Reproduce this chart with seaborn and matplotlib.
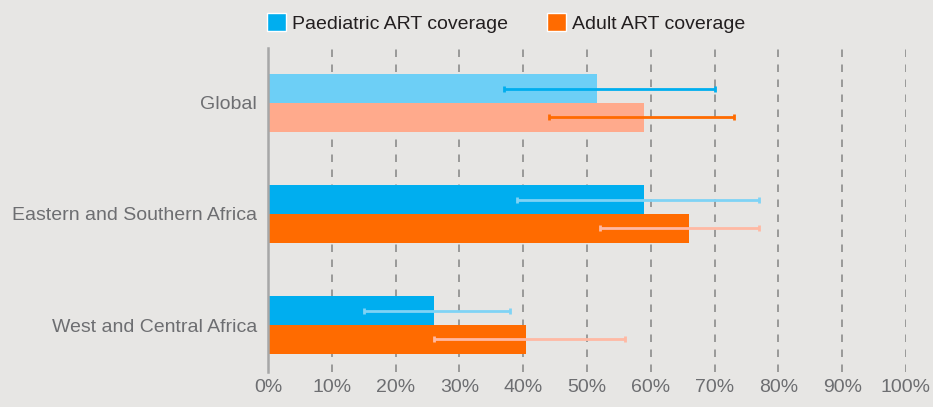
import pandas as pd
import numpy as np
from matplotlib import pyplot as plt
from matplotlib.patches import Patch
import seaborn as sb

# data (percent)
regions = ["Global", "Eastern and Southern Africa", "West and Central Africa"]
series = ["Paediatric ART coverage", "Adult ART coverage"]
paed_val = [51.5, 59, 26]
paed_lo = [37, 39, 15]
paed_hi = [70, 77, 38]
adult_val = [59, 66, 40.5]
adult_lo = [44, 52, 26]
adult_hi = [73, 77, 56]
xticks = list(range(0, 101, 10))

df = pd.DataFrame({
    "region": regions * 2,
    "series": [series[0]] * 3 + [series[1]] * 3,
    "value": paed_val + adult_val,
    "lo": paed_lo + adult_lo,
    "hi": paed_hi + adult_hi,
})

bg = "#e7e6e4"
blue, orange = "#00aeef", "#ff6b00"
light_blue, light_orange = "#6dcff6", "#ffaa8c"
err_light_blue, err_light_orange = "#7fd3f5", "#ffb9a3"
grey_txt = "#6d6e71"

sb.set_style("white")
plt.rcParams["font.family"] = ["Liberation Sans", "DejaVu Sans"]

fig = plt.figure(figsize=(9.33, 4.07), dpi=100, facecolor=bg)
ax = fig.add_axes([268 / 933, 1 - 372 / 407, (906 - 268) / 933, (372 - 48) / 407])
ax.set_facecolor(bg)

sb.barplot(data=df, y="region", x="value", hue="series", orient="h", errorbar=None,
           palette=[blue, orange], width=0.52, saturation=1, ax=ax, legend=False)

# Global bars lighter, error bar colours swapped
bar_cols = [[light_blue, blue, blue], [light_orange, orange, orange]]
err_cols = [[blue, err_light_blue, err_light_blue], [orange, err_light_orange, err_light_orange]]
los = [paed_lo, adult_lo]
his = [paed_hi, adult_hi]
vals = [paed_val, adult_val]
bar_conts = list(ax.containers)[:2]
for s, cont in enumerate(bar_conts):
    for i, bar in enumerate(cont):
        bar.set_facecolor(bar_cols[s][i])
        bar.set_edgecolor("none")
        bar.set_zorder(2)
        yc = bar.get_y() + bar.get_height() / 2
        ax.errorbar(vals[s][i], yc,
                    xerr=[[vals[s][i] - los[s][i]], [his[s][i] - vals[s][i]]],
                    fmt="none", ecolor=err_cols[s][i], elinewidth=2, capsize=2.5,
                    capthick=2, zorder=4)

ax.set_xlim(0, 100)
ax.set_ylim(2.423, -0.495)
ax.set_xticks(xticks)
ax.set_xticklabels([f"{t}%" for t in xticks])
ax.tick_params(axis="both", length=0, labelsize=14, labelcolor=grey_txt)
ax.tick_params(axis="x", pad=5)
ax.tick_params(axis="y", pad=8)
ax.set_xlabel("")
ax.set_ylabel("")
for t in xticks[1:]:
    ax.axvline(t, color="#8c8c8c", ls=(0, (4.5, 4.5)), lw=1.2, zorder=1)
for side in ["top", "right", "bottom"]:
    ax.spines[side].set_visible(False)
ax.spines["left"].set_color("#a7a7a7")
ax.spines["left"].set_linewidth(1.8)
ax.spines["left"].set_zorder(5)

handles = [Patch(facecolor=blue), Patch(facecolor=orange)]
fig.legend(handles, series, loc="center", bbox_to_anchor=(506 / 933, 1 - 23 / 407),
           ncol=2, frameon=False, fontsize=14, handlelength=1.0, handleheight=1.0,
           handletextpad=0.3, columnspacing=2.0, labelcolor="#231f20")

plt.savefig("out.png", dpi=100, facecolor=bg)
plt.close()
